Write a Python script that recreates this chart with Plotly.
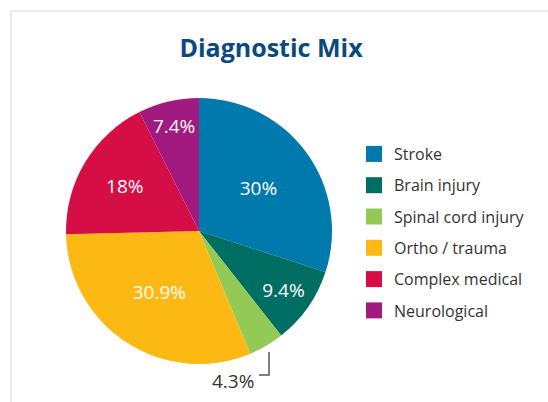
import plotly.graph_objects as go

categories = ["Stroke", "Brain injury", "Spinal cord injury", "Ortho / trauma", "Complex medical", "Neurological"]
values = [30, 9.4, 4.3, 30.9, 18, 7.4]
colors = ["#0079AD", "#006E63", "#93CA56", "#FDB913", "#D50F45", "#A21A80"]
text_positions = ["inside", "inside", "none", "inside", "inside", "inside"]
outside_index = 2

W, H = 548, 402


def px(x):
    return x / W


def py(y):
    return 1 - y / H


fig = go.Figure()

fig.add_trace(go.Pie(
    labels=categories,
    values=values,
    sort=False,
    direction="clockwise",
    rotation=0,
    marker=dict(colors=colors, line=dict(width=0)),
    texttemplate="%{value}%",
    textposition=text_positions,
    insidetextorientation="horizontal",
    insidetextfont=dict(color="white", size=19, family="Open Sans"),
    showlegend=False,
    hoverinfo="label+value",
    domain=dict(x=[px(66), px(332)], y=[py(364), py(98)]),
))

for name, c in zip(categories, colors):
    fig.add_trace(go.Scatter(
        x=[None], y=[None], mode="markers", name=name,
        marker=dict(symbol="square", size=16, color=c),
        legendgroup=name, showlegend=True,
    ))

leader = f"M {px(269)} {py(352)} L {px(269)} {py(375)} L {px(259)} {py(375)}"

fig.update_layout(
    width=W, height=H,
    margin=dict(l=0, r=0, t=0, b=0),
    paper_bgcolor="white", plot_bgcolor="white",
    title=dict(text="<b>Diagnostic Mix</b>", x=px(271), xanchor="center", y=py(48), yanchor="middle",
               font=dict(family="Open Sans", size=25, color="#0B4A7F")),
    xaxis=dict(visible=False), yaxis=dict(visible=False),
    legend=dict(x=px(354), y=py(137), xanchor="left", yanchor="top",
                font=dict(family="Open Sans", size=16, color="#333333"),
                tracegroupgap=7.5, itemsizing="trace"),
    annotations=[dict(text=f"{values[outside_index]}%", xref="paper", yref="paper",
                      x=px(233), y=py(381), xanchor="center", yanchor="middle", showarrow=False,
                      font=dict(family="Open Sans", size=19, color="#333333"))],
    shapes=[
        dict(type="line", xref="paper", yref="paper", x0=px(11), x1=1, y0=py(11), y1=py(11),
             line=dict(color="#ECECEC", width=2)),
        dict(type="line", xref="paper", yref="paper", x0=px(11), x1=px(11), y0=0, y1=py(11),
             line=dict(color="#ECECEC", width=2)),
        dict(type="path", xref="paper", yref="paper", path=leader,
             line=dict(color="#555555", width=1.5)),
    ],
)

fig.write_html("out.html", config={"displayModeBar": False},
               post_script="document.body.style.margin='0';")
